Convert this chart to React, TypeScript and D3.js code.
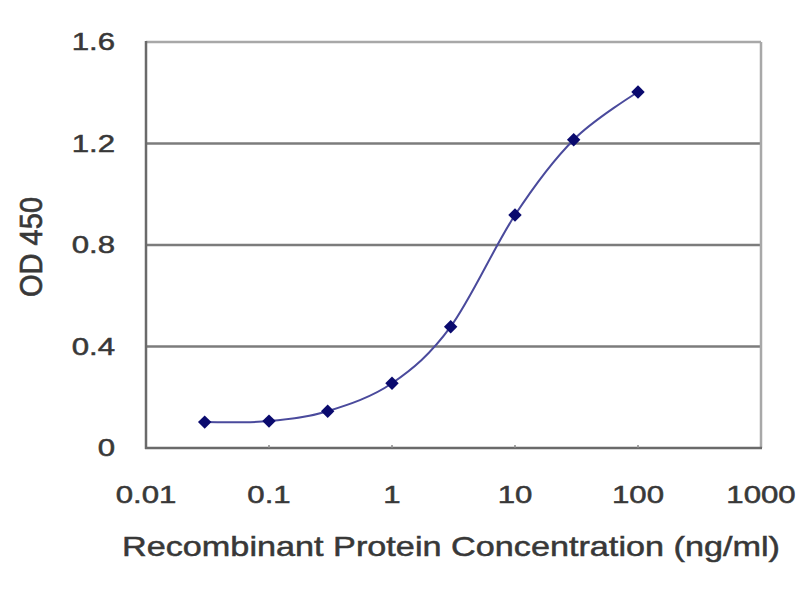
import React from "react";
import * as d3 from "d3";

const concentrations = [0.03, 0.1, 0.3, 1, 3, 10, 30, 100];
const odValues = [0.102, 0.106, 0.145, 0.255, 0.478, 0.918, 1.215, 1.403];
const xTicks = [0.01, 0.1, 1, 10, 100, 1000];
const xTickLabels = ["0.01", "0.1", "1", "10", "100", "1000"];
const yTicks = [0, 0.4, 0.8, 1.2, 1.6];
const yTickLabels = ["0", "0.4", "0.8", "1.2", "1.6"];
const xTitle = "Recombinant Protein Concentration (ng/ml)";
const yTitle = "OD 450";

export default function App() {
  const left = 146, right = 761, top = 42, bottom = 448;
  const x = d3.scaleLog().domain([0.01, 1000]).range([left, right]);
  const y = d3.scaleLinear().domain([0, 1.6]).range([bottom, top]);
  const pts: [number, number][] = concentrations.map((c, i) => [x(c), y(odValues[i])]);
  const line = d3.line().curve(d3.curveCardinal.tension(0))(pts) || "";
  const font = "Liberation Sans, Arial, sans-serif";
  const textColor = "#383838";
  const diamond = d3.symbol().type(d3.symbolDiamond2).size(115)() || "";
  const textStroke = { stroke: textColor, strokeWidth: 0.5 };
  return (
    <svg width={800} height={600} style={{ position: "absolute", left: 0, top: 0, background: "#fff" }}>
      {yTicks.slice(1, -1).map((t) => (
        <line key={t} x1={left} x2={right} y1={y(t)} y2={y(t)} stroke="#7c7c7c" strokeWidth={2.5} />
      ))}
      <line x1={left} x2={right} y1={top} y2={top} stroke="#a8a8a8" strokeWidth={2.5} />
      <line x1={right} x2={right} y1={top} y2={bottom} stroke="#a8a8a8" strokeWidth={2.5} />
      <line x1={left} x2={left} y1={top - 1} y2={bottom + 1} stroke="#6a6a6a" strokeWidth={2.5} />
      <line x1={left - 1} x2={right + 1} y1={bottom} y2={bottom} stroke="#6a6a6a" strokeWidth={2.5} />
      {xTicks.slice(1, -1).map((t) => (
        <line key={t} x1={x(t)} x2={x(t)} y1={bottom} y2={bottom - 3} stroke="#8a8a8a" strokeWidth={1.5} />
      ))}
      <path d={line} fill="none" stroke="#4a4a9c" strokeWidth={2} />
      {pts.map((p, i) => (
        <path key={i} d={diamond} transform={`translate(${p[0]},${p[1]})`} fill="#0a0a6e" />
      ))}
      {yTicks.map((t, i) => (
        <text key={t} transform={`translate(115,${y(t)}) scale(1.3,1)`} textAnchor="end" dominantBaseline="central"
          fontFamily={font} fontSize={24} fill={textColor} {...textStroke}>{yTickLabels[i]}</text>
      ))}
      {xTicks.map((t, i) => (
        <text key={t} transform={`translate(${x(t)},503) scale(1.3,1)`} textAnchor="middle"
          fontFamily={font} fontSize={24} fill={textColor} {...textStroke}>{xTickLabels[i]}</text>
      ))}
      <text x={451} y={556} textAnchor="middle" fontFamily={font} fontSize={28} fill={textColor}
        textLength={658} lengthAdjust="spacingAndGlyphs" {...textStroke}>{xTitle}</text>
      <text transform="translate(31,247) rotate(-90) scale(1.21,1.3)" textAnchor="middle" dominantBaseline="central"
        fontFamily={font} fontSize={24} fill={textColor} {...textStroke}>{yTitle}</text>
    </svg>
  );
}
